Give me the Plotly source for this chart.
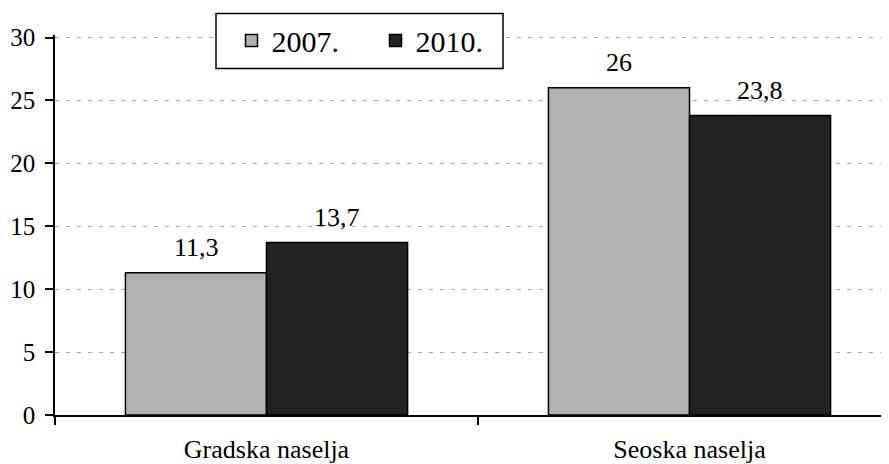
import plotly.graph_objects as go

categories = ["Gradska naselja", "Seoska naselja"]
series_names = ["2007.", "2010."]
values_2007 = [11.3, 26]
values_2010 = [13.7, 23.8]
labels_2007 = ["11,3", "26"]
labels_2010 = ["13,7", "23,8"]
y_ticks = [0, 5, 10, 15, 20, 25, 30]

FONT = "'Liberation Serif', 'Times New Roman', Times, serif"
Y_MAX = 30.2
PLOT_W = 834.0
PLOT_H = 377.0 * Y_MAX / 30.0


def py(pix):
    """page pixel row -> paper y"""
    return (414 - pix) / PLOT_H


fig = go.Figure()
fig.add_trace(go.Bar(
    x=categories, y=values_2007, name=series_names[0],
    marker=dict(color="#b2b2b2", line=dict(color="#000000", width=1.5)),
))
fig.add_trace(go.Bar(
    x=categories, y=values_2010, name=series_names[1],
    marker=dict(color="#222222", line=dict(color="#000000", width=1.5)),
))

# value labels above bars
for cat, v, lab in zip(categories, values_2007, labels_2007):
    fig.add_annotation(x=cat, y=v, text=lab, showarrow=False, xshift=-70.5,
                       yanchor="bottom", yshift=9,
                       font=dict(family=FONT, size=26, color="#000"))
for cat, v, lab in zip(categories, values_2010, labels_2010):
    fig.add_annotation(x=cat, y=v, text=lab, showarrow=False, xshift=70.5,
                       yanchor="bottom", yshift=9,
                       font=dict(family=FONT, size=26, color="#000"))

# legend frame
fig.add_shape(type="rect", xref="paper", yref="paper",
              x0=(216 - 55) / PLOT_W, x1=(503 - 55) / PLOT_W,
              y0=py(68), y1=py(13),
              line=dict(color="#000", width=1.5), fillcolor="white", layer="above")

fig.update_layout(
    width=881, height=456,
    margin=dict(l=47, r=0, t=26.5, b=42),
    paper_bgcolor="white", plot_bgcolor="white",
    barmode="group", bargap=0.333, bargroupgap=0,
    font=dict(family=FONT, size=25, color="#000"),
    showlegend=True,
    legend=dict(
        orientation="h", x=(231.5 - 55) / PLOT_W, y=py(14), xanchor="left", yanchor="top",
        bgcolor="rgba(0,0,0,0)", borderwidth=0,
        font=dict(family=FONT, size=30, color="#000"),
        entrywidth=99, itemwidth=30,
    ),
    xaxis=dict(
        type="category", range=[-0.5, 1.4716],
        showline=True, linecolor="#000", linewidth=1.5,
        ticks="outside", tickson="boundaries", ticklen=8, tickwidth=1.5, tickcolor="#000",
        showgrid=False, tickfont=dict(family=FONT, size=26),
        ticklabelstandoff=10,
    ),
    yaxis=dict(
        range=[0, Y_MAX], tickvals=y_ticks,
        showline=True, linecolor="#000", linewidth=1.5,
        ticks="outside", ticklen=8, tickwidth=1.5, tickcolor="#000",
        showgrid=True, gridcolor="#aaaaaa", gridwidth=1.2, griddash="4px,7px",
        zeroline=False, tickfont=dict(family=FONT, size=25),
        ticklabelstandoff=5,
    ),
)

fig.write_html("out.html")
